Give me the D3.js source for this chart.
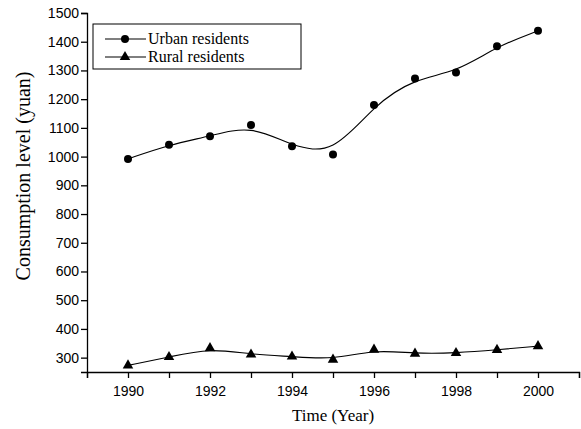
<!DOCTYPE html>
<html>
<head>
<meta charset="utf-8">
<script src="https://cdn.jsdelivr.net/npm/d3@7"></script>
<style>
  body { margin: 0; background: #fff; }
  .tick text { font-family: "Liberation Sans", Arial, sans-serif; font-size: 14px; fill: #000; }
  .domain, .tick line { stroke: #000; stroke-width: 1.3px; }
</style>
</head>
<body>
<div id="chart"></div>
<script>
const width = 581
const height = 429
const margin = { top: 13, left: 87, right: 2, bottom: 57 }

// data
const years = [1990, 1991, 1992, 1993, 1994, 1995, 1996, 1997, 1998, 1999, 2000]
const urban = [992, 1041, 1071, 1110, 1036, 1007, 1180, 1272, 1293, 1384, 1438]
const rural = [273, 302, 333, 311, 304, 293, 328, 314, 316, 327, 340]
const seriesNames = ["Urban residents", "Rural residents"]
const xTicks = [1989, 1990, 1991, 1992, 1993, 1994, 1995, 1996, 1997, 1998, 1999, 2000, 2001]
const yTicks = [300, 400, 500, 600, 700, 800, 900, 1000, 1100, 1200, 1300, 1400, 1500]

const svg = d3.select("#chart").append("svg").attr("width", width).attr("height", height)
const g = svg.append("g").attr("transform", `translate(${margin.left},${margin.top})`)
const w = width - margin.left - margin.right
const h = height - margin.top - margin.bottom

// escalas
const x = d3.scaleLinear().domain([1989, 2001]).range([0, w])
const y = d3.scaleLinear().domain([250, 1500]).range([h, 0])

// ejes
const xAxis = d3.axisBottom(x).tickValues(xTicks).tickSizeOuter(0).tickSize(6)
    .tickFormat(d => (d % 2 === 0 && d >= 1990 && d <= 2000) ? d : "")
const yAxis = d3.axisLeft(y).tickValues(yTicks).tickSizeOuter(0).tickSize(6).tickFormat(d3.format("d"))

g.append("g").attr("transform", `translate(0,${h})`).call(xAxis)
    .selectAll(".tick text").attr("dy", "1.05em")
g.append("g").call(yAxis)
    .selectAll(".tick text").attr("x", -8)

// curvas
const line = d3.line().x(d => x(d[0])).y(d => y(d[1])).curve(d3.curveBasis)
const urbanPts = years.map((yr, i) => [yr, urban[i]])
const ruralPts = years.map((yr, i) => [yr, rural[i]])

g.append("path").datum(urbanPts).attr("d", line)
    .attr("fill", "none").attr("stroke", "#000").attr("stroke-width", 1.1)
g.append("path").datum(ruralPts).attr("d", line)
    .attr("fill", "none").attr("stroke", "#000").attr("stroke-width", 1.1)

g.selectAll("circle.urban").data(urbanPts).enter().append("circle")
    .attr("class", "urban")
    .attr("cx", d => x(d[0])).attr("cy", d => y(d[1])).attr("r", 4).attr("fill", "#000")

const tri = d3.symbol().type(d3.symbolTriangle).size(48)
g.selectAll("path.rural").data(ruralPts).enter().append("path")
    .attr("class", "rural")
    .attr("d", tri)
    .attr("transform", d => `translate(${x(d[0])},${y(d[1])})`).attr("fill", "#000")

// leyenda
const legend = svg.append("g").attr("transform", "translate(93,24)")
legend.append("rect").attr("width", 208).attr("height", 45)
    .attr("fill", "#fff").attr("stroke", "#000").attr("stroke-width", 1)
seriesNames.forEach((name, i) => {
    const cy = 15 + i * 18
    legend.append("line").attr("x1", 12).attr("x2", 53).attr("y1", cy).attr("y2", cy)
        .attr("stroke", "#000").attr("stroke-width", 1.1)
    if (i === 0) {
        legend.append("circle").attr("cx", 32).attr("cy", cy).attr("r", 4).attr("fill", "#000")
    } else {
        legend.append("path").attr("d", tri).attr("transform", `translate(32,${cy})`).attr("fill", "#000")
    }
    legend.append("text").attr("x", 55).attr("y", cy + 5).text(name)
        .attr("font-family", "Liberation Serif, Times New Roman, serif").attr("font-size", 16)
})

// titulos
svg.append("text").attr("x", margin.left + w / 2).attr("y", 421)
    .attr("text-anchor", "middle")
    .attr("font-family", "Liberation Serif, Times New Roman, serif").attr("font-size", 17)
    .text("Time (Year)")
svg.append("text").attr("transform", "translate(30,176) rotate(-90)")
    .attr("text-anchor", "middle")
    .attr("font-family", "Liberation Serif, Times New Roman, serif").attr("font-size", 20)
    .text("Consumption level (yuan)")
</script>
</body>
</html>
